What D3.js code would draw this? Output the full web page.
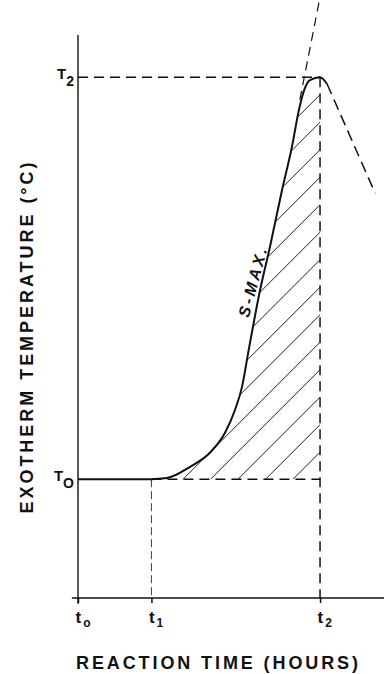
<!DOCTYPE html>
<html>
<head>
<meta charset="utf-8">
<script src="https://cdn.jsdelivr.net/npm/d3@7"></script>
<style>
  body { margin: 0; background: #fff; }
  svg { display: block; }
  text { font-family: "Liberation Sans", Arial, sans-serif; font-weight: bold; fill: #111; }
</style>
</head>
<body>
<div id="chart"></div>
<script>

// time axis marks (arbitrary hour units) and their subscripts
var timeTicks = [0, 24, 79.1];
var timeSubs = ["o", "1", "2"];

// temperature marks and their subscripts
var tempTicks = [21.1, 92.5];
var tempSubs = ["O", "2"];

// exotherm curve
var curveX = [0, 23.9, 29.1, 36.6, 43.1, 48.0, 51.3, 53.6, 55.6, 59.5, 62.7, 66.7, 69.9, 72.2, 73.9, 75.8, 79.1, 81.4];
var curveY = [21.1, 21.1, 21.3, 23.3, 25.8, 29.3, 33.4, 37.5, 43.5, 54.7, 62.3, 72.5, 80.1, 86.7, 90.2, 92.0, 92.5, 91.3];

// extension of the S-MAX slope and the cooling branch
var tangentX = [72.5, 78.8];
var tangentY = [88.5, 105.9];
var coolX = [81.4, 97.1];
var coolY = [91.3, 71.9];

var W = 384, H = 674;

var svg = d3.select("#chart")
    .append("svg")
    .attr("width", W)
    .attr("height", H);

var x = d3.scaleLinear().domain([0, 100]).range([78, 384]);
var y = d3.scaleLinear().domain([0, 100]).range([598, 35]);

var curve = curveX.map(function(d, i) { return [d, curveY[i]]; });
var peakIdx = curveX.indexOf(timeTicks[2]);

var line = d3.line()
    .x(function(d) { return x(d[0]); })
    .y(function(d) { return y(d[1]); })
    .curve(d3.curveMonotoneX);

// hatched region: under the curve, above T0, left of t2
svg.append("clipPath")
    .attr("id", "hatchClip")
    .append("path")
    .attr("d", line(curve.slice(1, peakIdx + 1)) +
        "L" + x(timeTicks[2]) + "," + y(tempTicks[0]) +
        "L" + x(timeTicks[1]) + "," + y(tempTicks[0]) + "Z");

var hatchStep = 27.5;
var hatchStart = x(timeTicks[2]) - 27;
svg.append("g")
    .attr("clip-path", "url(#hatchClip)")
    .selectAll("line")
    .data(d3.range(0, 22))
    .enter()
    .append("line")
    .attr("x1", function(k) { return hatchStart - k * hatchStep; })
    .attr("y1", y(tempTicks[0]))
    .attr("x2", function(k) { return hatchStart - k * hatchStep + 600; })
    .attr("y2", y(tempTicks[0]) - 600)
    .attr("stroke", "#222")
    .attr("stroke-width", 1);

// guide lines
function dashed(x1, y1, x2, y2, dash, w) {
    svg.append("line")
        .attr("x1", x(x1)).attr("y1", y(y1))
        .attr("x2", x(x2)).attr("y2", y(y2))
        .attr("stroke", "#111")
        .attr("stroke-width", w)
        .attr("stroke-dasharray", dash);
}

dashed(0, tempTicks[1], timeTicks[2], tempTicks[1], "10,6", 1.5);
dashed(timeTicks[1], tempTicks[0], timeTicks[2], tempTicks[0], "10,6", 1.5);
dashed(timeTicks[2], tempTicks[1], timeTicks[2], 0, "10,6", 1.5);
dashed(timeTicks[1], tempTicks[0], timeTicks[1], 0, "8,4", 0.8);
dashed(tangentX[0], tangentY[0], tangentX[1], tangentY[1], "9,6", 1.2);
dashed(coolX[0], coolY[0], coolX[1], coolY[1], "11,6", 1.5);

// the curve
svg.append("path")
    .attr("d", line(curve))
    .attr("fill", "none")
    .attr("stroke", "#111")
    .attr("stroke-width", 2);

// axes
var xAxis = d3.axisBottom(x).tickValues(timeTicks).tickSize(5).tickPadding(5);
var yAxis = d3.axisLeft(y).tickValues(tempTicks).tickSize(0).tickPadding(4);

var gx = svg.append("g")
    .attr("transform", "translate(0," + y(0) + ")")
    .call(xAxis);
var gy = svg.append("g")
    .attr("transform", "translate(" + x(0) + ",0)")
    .call(yAxis);

gx.select(".domain").remove();
gy.select(".domain").remove();
gx.selectAll(".tick line").attr("stroke", "#111").attr("stroke-width", 1.5);

svg.append("line")
    .attr("x1", x(-2)).attr("x2", x(100))
    .attr("y1", y(0)).attr("y2", y(0))
    .attr("stroke", "#111").attr("stroke-width", 1.6);
svg.append("line")
    .attr("x1", x(0)).attr("x2", x(0))
    .attr("y1", y(100)).attr("y2", y(-1))
    .attr("stroke", "#111").attr("stroke-width", 1.4);

gx.selectAll(".tick text").each(function(d, i) {
    var t = d3.select(this).text("").attr("font-size", 17).attr("text-anchor", "start")
        .attr("x", -3).attr("dy", "0.9em");
    t.append("tspan").text("t");
    t.append("tspan").attr("font-size", 12).attr("dx", 2).attr("dy", 4).text(timeSubs[i]);
});

gy.selectAll(".tick text").each(function(d, i) {
    var t = d3.select(this).text("").attr("font-size", 15).attr("dy", "0.1em");
    t.append("tspan").text("T");
    t.append("tspan").attr("font-size", 14).attr("dx", 0).attr("dy", 7).text(tempSubs[i]);
});

// S-MAX. label along the slope
svg.append("text")
    .attr("transform", "translate(" + x(57.2) + "," + y(56.3) + ") rotate(-75)")
    .attr("text-anchor", "middle")
    .attr("dy", "0.35em")
    .attr("font-size", 16)
    .attr("font-style", "italic")
    .attr("letter-spacing", 3)
    .text("S-MAX.");

// axis titles
svg.append("text")
    .attr("x", 217)
    .attr("y", 669)
    .attr("text-anchor", "middle")
    .attr("font-size", 18)
    .attr("textLength", 282)
    .attr("lengthAdjust", "spacing")
    .text("REACTION TIME (HOURS)");

svg.append("text")
    .attr("transform", "translate(33,338) rotate(-90)")
    .attr("text-anchor", "middle")
    .attr("font-size", 18)
    .attr("textLength", 351)
    .attr("lengthAdjust", "spacing")
    .text("EXOTHERM TEMPERATURE (°C)");

</script>
</body>
</html>
